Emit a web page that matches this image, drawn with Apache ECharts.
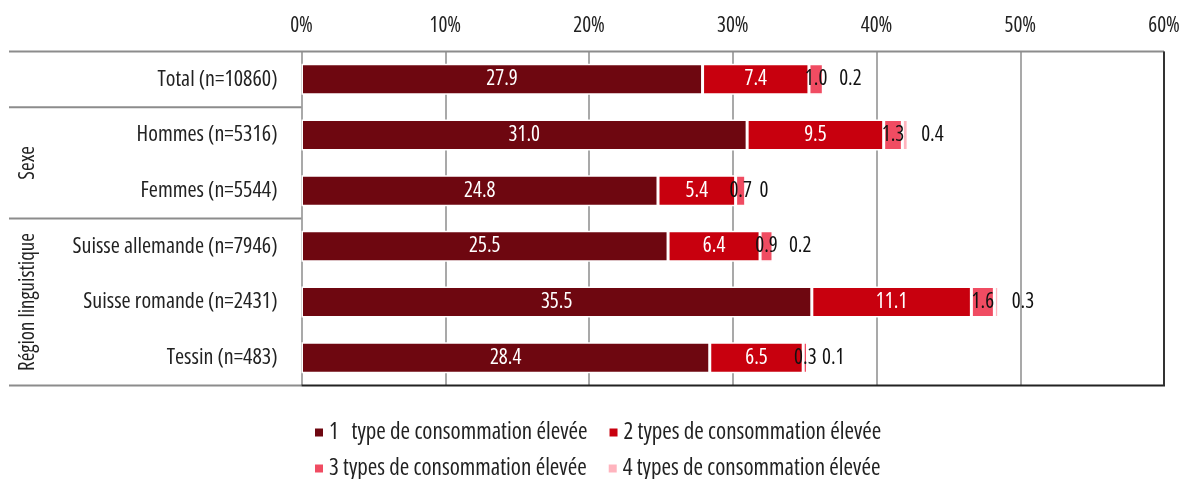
<!DOCTYPE html>
<html>
<head>
<meta charset="utf-8">
<script src="https://cdn.jsdelivr.net/npm/echarts@6/dist/echarts.min.js"></script>
<style>
html,body{margin:0;padding:0;background:#fff;}
#chart{width:1183px;height:479px;}
</style>
</head>
<body>
<div id="chart"></div>
<script>
const categories = ['Total (n=10860)', 'Hommes (n=5316)', 'Femmes (n=5544)', 'Suisse allemande (n=7946)', 'Suisse romande (n=2431)', 'Tessin (n=483)'];
const groups = [
  { name: 'Sexe', from: 1, to: 2 },
  { name: 'Région linguistique', from: 3, to: 5 }
];
const seriesNames = ['1   type de consommation élevée', '2 types de consommation élevée', '3 types de consommation élevée', '4 types de consommation élevée'];
const type1 = [27.9, 31.0, 24.8, 25.5, 35.5, 28.4];
const type2 = [7.4, 9.5, 5.4, 6.4, 11.1, 6.5];
const type3 = [1.0, 1.3, 0.7, 0.9, 1.6, 0.3];
const type4 = [0.2, 0.4, 0, 0.2, 0.3, 0.1];
const xTicks = [0, 10, 20, 30, 40, 50, 60];

const FONT = "'Open Sans', 'DejaVu Sans', sans-serif";
const STRETCH = 'condensed';
const colors = ['#6E0710', '#C8000E', '#F04C62', '#FFB4BE'];

const chart = echarts.init(document.getElementById('chart'), null, { renderer: 'canvas' });

function fmt(v) { return v === 0 ? '0' : v.toFixed(1); }
function ts(size, color) {
  return { fontFamily: FONT, fontStyle: STRETCH, fontWeight: 'normal', fontSize: size, color: color };
}

const data = [type1, type2, type3, type4];
const series = data.map((d, i) => ({
  name: seriesNames[i],
  type: 'bar',
  stack: 'total',
  barWidth: 31,
  data: d,
  itemStyle: { color: colors[i], borderColor: '#fff', borderWidth: 1.5 },
  label: Object.assign({
    show: true,
    position: i === 3 ? 'right' : 'inside',
    distance: i === 3 ? 13 : 5,
    formatter: p => fmt(p.value)
  }, ts(21, i < 2 ? '#fff' : '#111')),
  emphasis: { disabled: true },
  z: 3
}));

const option = {
  animation: false,
  textStyle: { fontFamily: FONT, fontStyle: STRETCH },
  grid: { left: 301.5, right: 19, top: 51.5, bottom: 93.5, containLabel: false },
  xAxis: {
    type: 'value',
    position: 'top',
    min: xTicks[0],
    max: xTicks[xTicks.length - 1],
    interval: 10,
    axisLine: { show: false },
    axisTick: { show: false },
    axisLabel: Object.assign({ formatter: '{value}%', margin: 15 }, ts(21, '#222')),
    splitLine: { show: true, lineStyle: { color: '#8c8c8c', width: 1.5 } }
  },
  yAxis: {
    type: 'category',
    inverse: true,
    data: categories,
    axisLine: { show: false },
    axisTick: { show: false },
    axisLabel: Object.assign({ margin: 24 }, ts(22, '#222')),
    splitLine: { show: false }
  },
  legend: [
    {
      data: [seriesNames[0], seriesNames[1]],
      left: 308, top: 416,
      itemWidth: 10, itemHeight: 10, itemGap: 20, icon: 'rect',
      textStyle: ts(23, '#222'),
      selectedMode: false
    },
    {
      data: [seriesNames[2], seriesNames[3]],
      left: 308, top: 452,
      itemWidth: 10, itemHeight: 10, itemGap: 20, icon: 'rect',
      textStyle: ts(23, '#222'),
      selectedMode: false
    }
  ],
  series: series
};

chart.setOption(option);

// Table lines and group labels derived from the axis geometry
const x0 = chart.convertToPixel({ xAxisIndex: 0 }, xTicks[0]);
const x1 = chart.convertToPixel({ xAxisIndex: 0 }, xTicks[xTicks.length - 1]);
const band = chart.convertToPixel({ yAxisIndex: 0 }, 1) - chart.convertToPixel({ yAxisIndex: 0 }, 0);
function edgeTop(i) { return chart.convertToPixel({ yAxisIndex: 0 }, i) - band / 2; }
function edgeBottom(i) { return chart.convertToPixel({ yAxisIndex: 0 }, i) + band / 2; }
const yTop = edgeTop(0);
const yBot = edgeBottom(categories.length - 1);
const leftX = 9;
const gray = '#8c8c8c';

const elements = [];
elements.push({ type: 'line', shape: { x1: leftX, y1: yTop, x2: x1, y2: yTop }, style: { stroke: gray, lineWidth: 2 }, z: 10 });
elements.push({ type: 'line', shape: { x1: leftX, y1: yBot, x2: x0, y2: yBot }, style: { stroke: gray, lineWidth: 2 }, z: 10 });
elements.push({ type: 'line', shape: { x1: x0, y1: yBot, x2: x1 + 1, y2: yBot }, style: { stroke: '#222', lineWidth: 2 }, z: 10 });
elements.push({ type: 'line', shape: { x1: x1, y1: yTop, x2: x1, y2: yBot }, style: { stroke: '#333', lineWidth: 2 }, z: 10 });
groups.forEach(g => {
  const t = edgeTop(g.from);
  elements.push({ type: 'line', shape: { x1: leftX, y1: t, x2: x0, y2: t }, style: { stroke: gray, lineWidth: 2 }, z: 10 });
  const cy = (edgeTop(g.from) + edgeBottom(g.to)) / 2;
  elements.push({
    type: 'text',
    x: 28, y: cy,
    rotation: Math.PI / 2,
    style: { text: g.name, fontFamily: FONT, fontStyle: STRETCH, fontSize: 21, fill: '#222', align: 'center', verticalAlign: 'middle' },
    z: 10
  });
});
chart.setOption({ graphic: { elements: elements } });
</script>
</body>
</html>
